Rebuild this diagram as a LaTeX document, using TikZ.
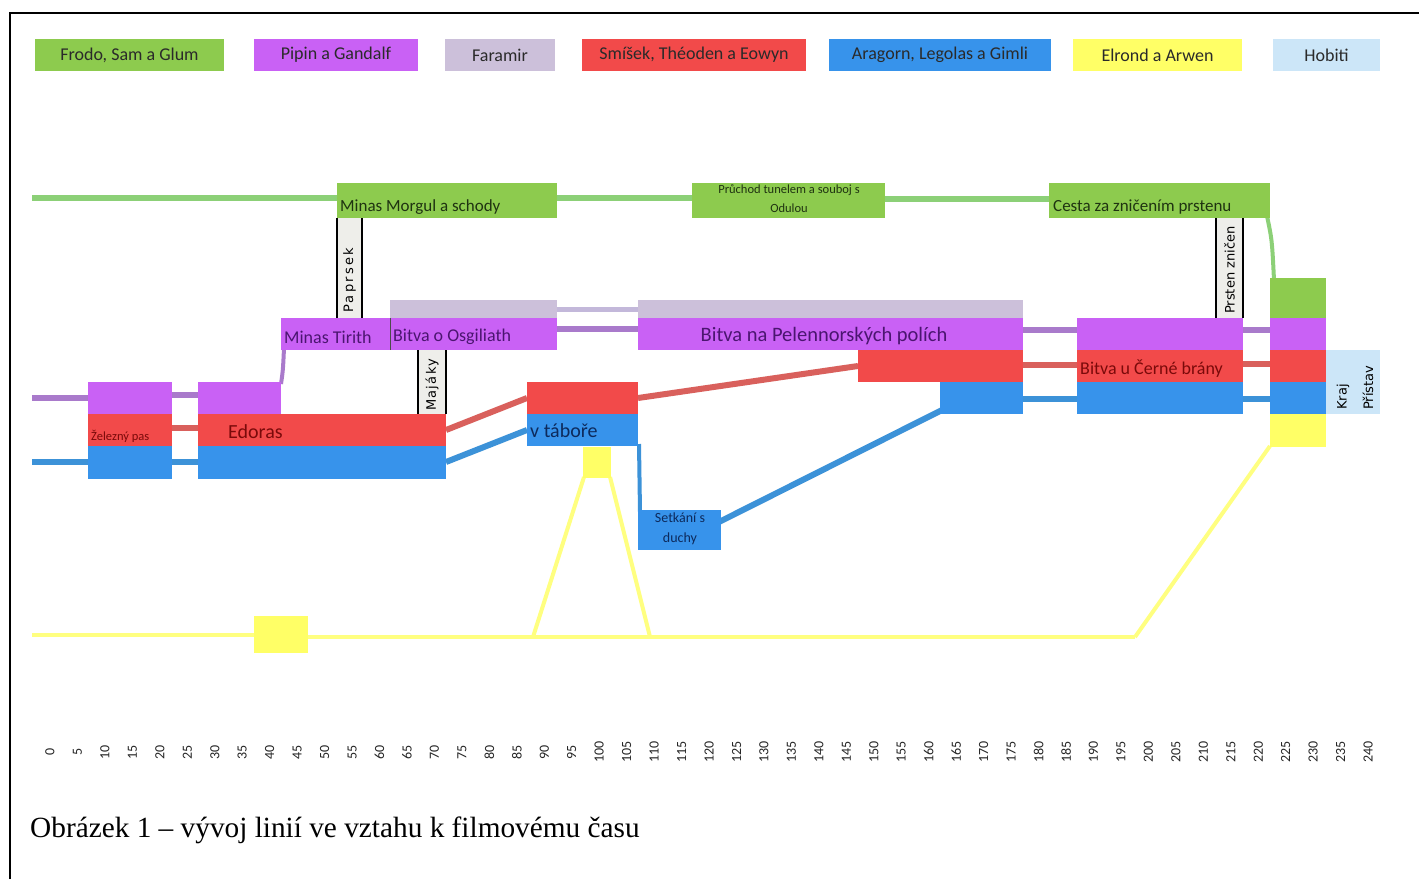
\documentclass[tikz,border=0pt]{standalone}
\usepackage{fontspec}
\setmainfont{Liberation Serif}
\newfontfamily\calib{Carlito}
\newfontfamily\dejav{DejaVu Sans}
\usetikzlibrary{calc}
\definecolor{cGreen}{HTML}{8DCB4E}
\definecolor{cGreenL}{HTML}{8CD077}
\definecolor{cViolet}{HTML}{C961F5}
\definecolor{cVioletL}{HTML}{A97ACB}
\definecolor{cLav}{HTML}{CCC0DA}
\definecolor{cLavL}{HTML}{C3B8DA}
\definecolor{cRed}{HTML}{F24A4A}
\definecolor{cRedL}{HTML}{D9605C}
\definecolor{cBlue}{HTML}{3793EB}
\definecolor{cBlueL}{HTML}{3C92D8}
\definecolor{cYellow}{HTML}{FFFF66}
\definecolor{cYellowL}{HTML}{FFFF80}
\definecolor{cHob}{HTML}{CCE6F8}
\definecolor{cGray}{HTML}{EEEEEA}
\definecolor{legtxt}{HTML}{2A2A2A}
\definecolor{tGreen}{HTML}{1F3311}
\definecolor{tViolet}{HTML}{4B1570}
\definecolor{tRed}{HTML}{7A0A0A}
\definecolor{tBlue}{HTML}{0D2A5C}
\begin{document}
\begin{tikzpicture}[x=1pt,y=-1pt,
  blk/.style={rectangle,inner sep=0pt,outer sep=0pt,anchor=north west,draw=none},
  leg/.style={blk,font=\calib\fontsize{18}{20}\selectfont,text=legtxt,minimum height=32pt},
  vbox/.style={blk,fill=cGray},
  vtext/.style={rotate=90,anchor=west,inner sep=0pt,font=\dejav\fontsize{13}{15}\selectfont,text=black},
  btext/.style={anchor=west,inner sep=0pt,font=\calib\fontsize{18}{20}\selectfont},
  num/.style={rotate=90,inner sep=0pt,font=\calib\fontsize{14}{16}\selectfont,text=black!85},
  gln/.style={draw=cGreenL,line width=6pt},
  vln/.style={draw=cVioletL,line width=6pt},
  lln/.style={draw=cLavL,line width=5pt},
  rln/.style={draw=cRedL,line width=6pt},
  bln/.style={draw=cBlueL,line width=6pt},
  yln/.style={draw=cYellowL,line width=4pt}
]
\useasboundingbox (0,0) rectangle (1419,879);
\fill[white] (0,0) rectangle (1419,879);
% frame
\draw[line width=2pt] (10,879) -- (10,13) -- (1419,13);

% legend
\node[leg,fill=cGreen,minimum width=189pt] (lg1) at (35,39) {Frodo, Sam a Glum};
\node[leg,fill=cViolet,minimum width=164pt] (lg2) at (254,39) {Pipin a Gandalf};
\node[leg,fill=cLav,minimum width=110pt] (lg3) at (445,39) {Faramir};
\node[leg,fill=cRed,minimum width=224pt] (lg4) at (582,39) {Smíšek, Théoden a Eowyn};
\node[leg,fill=cBlue,minimum width=222pt] (lg5) at (829,39) {Aragorn, Legolas a Gimli};
\node[leg,fill=cYellow,minimum width=169pt] (lg6) at (1073,39) {Elrond a Arwen};
\node[leg,fill=cHob,minimum width=107pt] (lg7) at (1273,39) {Hobiti};

% coordinates for free ends
\coordinate (gL) at (32,198);
\coordinate (vL) at (32,398);
\coordinate (bL) at (32,462);
\coordinate (yL) at (32,635);
\coordinate (ya) at (533,637);
\coordinate (yb) at (650,637);
\coordinate (yR) at (1135,637);

% ---- connectors (drawn first, below boxes)
\draw[gln] (gL) -- (337,198);
\draw[gln] (557,198) -- (692,198);
\draw[gln] (885,199) -- (1049,199);
\draw[gln,line width=4pt] (1267,216) .. controls (1272,240) .. (1274,280);
\draw[lln] (557,309) -- (638,309);
\draw[vln] (vL) -- (88,398);
\draw[vln] (172,395) -- (198,395);
\draw[vln,line width=4pt] (281,384) .. controls (283,370) .. (284,348);
\draw[vln] (557,329) -- (638,329);
\draw[vln] (1023,330) -- (1077,330);
\draw[vln] (1243,330) -- (1270,330);
\draw[rln] (172,428) -- (198,428);
\draw[rln] (446,430) -- (527,398);
\draw[rln] (638,398) -- (858,366);
\draw[rln] (1023,365) -- (1077,365);
\draw[rln] (1243,364) -- (1270,364);
\draw[bln] (bL) -- (88,462);
\draw[bln] (172,462) -- (198,462);
\draw[bln] (446,462) -- (527,430);
\draw[bln,line width=4pt] (639,444) -- (640,512);
\draw[bln] (719,522) -- (942,410);
\draw[bln] (1023,399) -- (1077,399);
\draw[bln] (1243,399) -- (1270,399);
\draw[yln] (yL) -- (254,635);
\draw[yln] (308,637) -- (yR);
\draw[yln] (yR) -- (1270,446);
\draw[yln] (ya) -- (584,477);
\draw[yln] (610,477) -- (yb);

% ---- green boxes
\node[blk,fill=cGreen,minimum width=220pt,minimum height=35pt] (mm) at (337,183) {};
\node[blk,fill=cGreen,minimum width=193pt,minimum height=35pt] (pt) at (692,183) {};
\node[blk,fill=cGreen,minimum width=221pt,minimum height=35pt] (cz) at (1049,183) {};
\node[blk,fill=cGreen,minimum width=56pt,minimum height=40pt] (gr) at (1270,278) {};

% ---- lavender
\node[blk,fill=cLav,minimum width=167pt,minimum height=18pt] (lav1) at (390,300) {};
\node[blk,fill=cLav,minimum width=385pt,minimum height=18pt] (lav2) at (638,300) {};

% ---- violet
\node[blk,fill=cViolet,minimum width=84pt,minimum height=32pt] (v1) at (88,382) {};
\node[blk,fill=cViolet,minimum width=83pt,minimum height=32pt] (v2) at (198,382) {};
\node[blk,fill=cViolet,minimum width=109pt,minimum height=32pt] (mt) at (281,318) {};
\node[blk,fill=cViolet,minimum width=167pt,minimum height=32pt] (bo) at (390,318) {};
\node[blk,fill=cViolet,minimum width=385pt,minimum height=32pt] (bp) at (638,318) {};
\node[blk,fill=cViolet,minimum width=166pt,minimum height=32pt] (bcv) at (1077,318) {};
\node[blk,fill=cViolet,minimum width=56pt,minimum height=32pt] (rv) at (1270,318) {};
\draw[line width=1pt,black!70] (bo.north west) -- (bo.south west);

% ---- red
\node[blk,fill=cRed,minimum width=84pt,minimum height=32pt] (r1) at (88,414) {};
\node[blk,fill=cRed,minimum width=248pt,minimum height=32pt] (r2) at (198,414) {};
\node[blk,fill=cRed,minimum width=111pt,minimum height=32pt] (r3) at (527,382) {};
\node[blk,fill=cRed,minimum width=165pt,minimum height=32pt] (r4) at (858,350) {};
\node[blk,fill=cRed,minimum width=166pt,minimum height=32pt] (r5) at (1077,350) {};
\node[blk,fill=cRed,minimum width=56pt,minimum height=32pt] (r6) at (1270,350) {};

% ---- blue
\node[blk,fill=cBlue,minimum width=84pt,minimum height=33pt] (b1) at (88,446) {};
\node[blk,fill=cBlue,minimum width=248pt,minimum height=33pt] (b2) at (198,446) {};
\node[blk,fill=cBlue,minimum width=111pt,minimum height=32pt] (vt) at (527,414) {};
\node[blk,fill=cBlue,minimum width=83pt,minimum height=40pt] (sd) at (638,510) {};
\node[blk,fill=cBlue,minimum width=83pt,minimum height=32pt] (b4) at (940,382) {};
\node[blk,fill=cBlue,minimum width=166pt,minimum height=32pt] (b5) at (1077,382) {};
\node[blk,fill=cBlue,minimum width=56pt,minimum height=32pt] (b6) at (1270,382) {};

% ---- yellow
\node[blk,fill=cYellow,minimum width=54pt,minimum height=37pt] (y1) at (254,616) {};
\node[blk,fill=cYellow,minimum width=28pt,minimum height=31pt] (y2) at (583,447) {};
\node[blk,fill=cYellow,minimum width=56pt,minimum height=33pt] (y3) at (1270,414) {};

% ---- hobiti
\node[blk,fill=cHob,minimum width=54pt,minimum height=64pt] (hob) at (1326,350) {};

% ---- vertical label boxes
\node[vbox,minimum width=25pt,minimum height=100pt] (pp) at (337,218) {};
\draw[line width=1.2pt] (pp.north west) -- (pp.south west) (pp.north east) -- (pp.south east);
\node[vbox,minimum width=27pt,minimum height=100pt] (pz) at (1216,218) {};
\draw[line width=1.2pt] (pz.north west) -- (pz.south west) (pz.north east) -- (pz.south east);
\node[vbox,minimum width=28pt,minimum height=64pt] (mj) at (418,350) {};
\draw[line width=1.2pt] (mj.north west) -- (mj.south west) (mj.north east) -- (mj.south east);

% ---- texts
\node[btext,text=tGreen,font=\calib\fontsize{17}{19}\selectfont] (tmm) at (340,207) {Minas Morgul a schody};
\node[inner sep=0pt,align=center,text=tGreen,font=\calib\fontsize{12.5}{19}\selectfont] (tpt) at (789,199) {Průchod tunelem a souboj s\\Odulou};
\node[btext,text=tGreen,font=\calib\fontsize{17}{19}\selectfont] (tcz) at (1053,207) {Cesta za zničením prstenu};
\node[vtext,font=\dejav\fontsize{13}{15}\addfontfeature{LetterSpace=18}\selectfont] (tpp) at (349.5,313) {Paprsek};
\node[vtext] (tpz) at (1229.5,314) {Prsten zničen};
\node[vtext,font=\dejav\fontsize{13}{15}\addfontfeature{LetterSpace=10}\selectfont] (tmj) at (432,411) {Majáky};
\node[vtext] (tkr) at (1343,410) {Kraj};
\node[vtext] (tpr) at (1368,410) {Přístav};
\node[btext,text=tViolet] (tmt) at (284,337) {Minas Tirith};
\node[btext,text=tViolet] (tbo) at (393,337) {Bitva o Osgiliath};
\node[inner sep=0pt,text=tViolet,font=\calib\fontsize{20.5}{22}\selectfont] (tbp) at (824,336) {Bitva na Pelennorských polích};
\node[btext,text=tRed] (tr5) at (1080,369) {Bitva u Černé brány};
\node[btext,text=tRed,font=\calib\fontsize{20}{22}\selectfont] (ted) at (228,432) {Edoras};
\node[btext,text=tRed,font=\calib\fontsize{12.5}{14}\selectfont] (tzp) at (91,436) {Železný pas};
\node[btext,text=tBlue,font=\calib\fontsize{20}{22}\selectfont] (tvt) at (530,431) {v táboře};
\node[inner sep=0pt,align=center,text=tBlue,font=\calib\fontsize{14}{20}\selectfont] (tsd) at (680,529) {Setkání s\\duchy};

% ---- axis numbers
\foreach \i [evaluate=\i as \v using int(5*\i)] in {0,...,48} {
  \node[num] (t\i) at ({50+27.46*\i},752) {\v};
}

% ---- caption
\node[anchor=base west,inner sep=0pt,font=\fontsize{29.3}{32}\selectfont] (cap) at (30,837) {Obrázek 1 – vývoj linií ve vztahu k filmovému času};
\end{tikzpicture}
\end{document}
